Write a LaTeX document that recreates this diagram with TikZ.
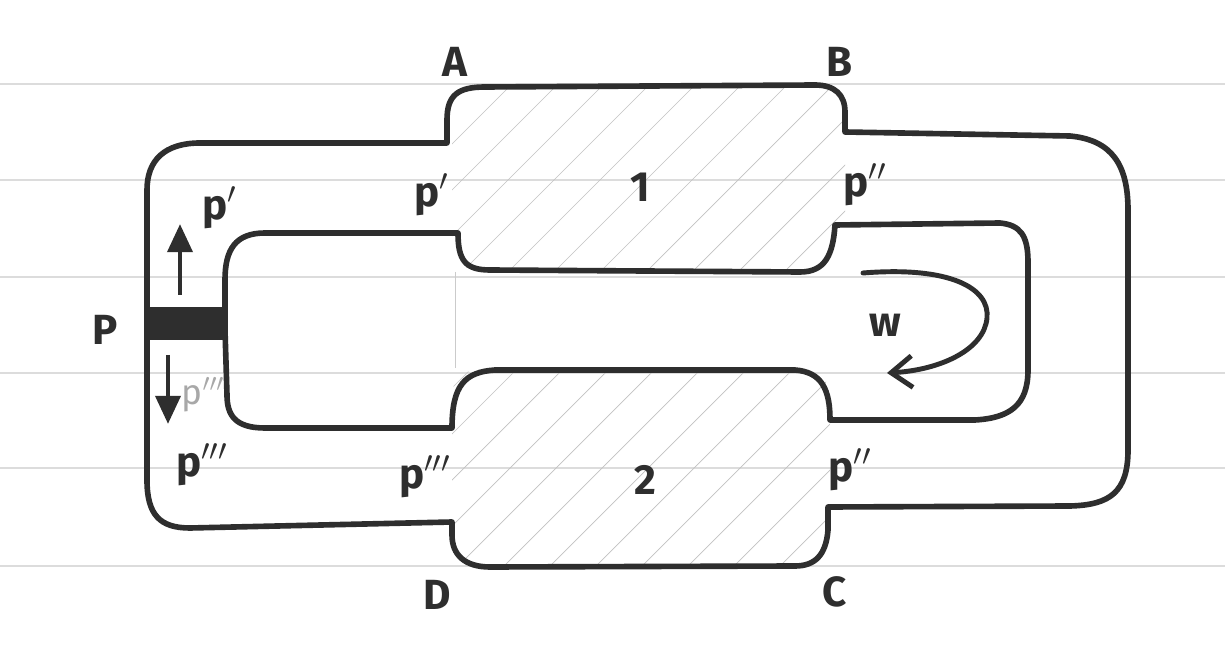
\documentclass[tikz,border=0pt]{standalone}
\usepackage{fontspec}
\setsansfont{Fira Sans}
\usetikzlibrary{arrows.meta}
\definecolor{Ink}{HTML}{2E2E2E}
\definecolor{Rule}{HTML}{DCDCDC}
\definecolor{Pencil}{HTML}{A8A8A8}

\begin{document}
\begin{tikzpicture}[x=0.02cm,y=-0.02cm,font=\sffamily\bfseries\fontsize{24}{28}\selectfont,
 wall/.style={draw=Ink,line width=3.2pt,line join=round,line cap=round},
 rule/.style={draw=Rule,line width=0.7pt},
 hatch/.style={draw=Pencil!70,line width=0.4pt},
 push/.style={draw=Ink,line width=2.8pt,-{Triangle[length=16pt,width=14pt]}},
 turn/.style={draw=Ink,line width=2.8pt,line cap=round,-{Straight Barb[length=12pt,width=18pt,line width=2.8pt]}},
 lbl/.style={text=Ink,inner sep=0pt}]
 \useasboundingbox (0,0) rectangle (1225,662);
 \fill[white] (0,0) rectangle (1225,662);
 % ruled paper
 \foreach \y in {84,180,277,373,468,566}
  \draw[rule] (0,\y) -- (1225,\y);
 % hatching in the two chambers
 \begin{scope}
  \clip[rounded corners=0.5cm] (452,87) rectangle (845,270);
  \foreach \k in {0,...,14}
   \draw[hatch] (250+\k*46,300) -- (480+\k*46,70);
 \end{scope}
 \begin{scope}
  \clip[rounded corners=0.5cm] (452,370) rectangle (830,567);
  \foreach \k in {0,...,14}
   \draw[hatch] (250+\k*46,590) -- (480+\k*46,360);
 \end{scope}
 \draw[draw=Pencil!60,line width=0.5pt] (455,272) -- (455,368);
 % outer wall
 \draw[wall] (147,330) -- (147,190) .. controls (147,160) and (165,143) .. (200,143)
  -- (447,143) -- (447,120) .. controls (447,95) and (458,87) .. (485,87)
  -- (815,85) .. controls (835,85) and (845,95) .. (845,112) -- (845,132)
  -- (1070,136) .. controls (1112,140) and (1128,165) .. (1128,210)
  -- (1128,450) .. controls (1128,492) and (1110,505) .. (1070,506)
  -- (828,507) -- (828,530) .. controls (826,555) and (815,566) .. (795,566)
  -- (490,567) .. controls (465,567) and (452,555) .. (452,535) -- (452,522)
  -- (190,528) .. controls (160,528) and (147,515) .. (147,480) -- cycle;
 % inner wall
 \draw[wall] (225,330) -- (225,280) .. controls (225,250) and (235,233) .. (265,233)
  -- (458,233) .. controls (458,260) and (465,270) .. (490,270)
  -- (800,272) .. controls (825,272) and (833,255) .. (835,225)
  -- (1000,223) .. controls (1020,225) and (1028,235) .. (1028,262)
  -- (1028,370) .. controls (1028,405) and (1010,418) .. (975,420)
  -- (830,420) .. controls (830,390) and (822,372) .. (795,370)
  -- (495,370) .. controls (465,372) and (452,385) .. (452,428)
  -- (265,428) .. controls (235,428) and (227,415) .. (227,395) -- cycle;
 % piston
 \fill[Ink] (147,307) rectangle (225,340);
 % labels
 \node[lbl] (lblA) at (455,62) {A};
 \node[lbl] (lblB) at (840,62) {B};
 \node[lbl] (lblC) at (835,592) {C};
 \node[lbl] (lblD) at (437,595) {D};
 \node[lbl] (one) at (640,187) {1};
 \node[lbl] (two) at (645,480) {2};
 \node[lbl] (lblP) at (105,330) {P};
 \node[lbl] (pa) at (432,195) {p\(^{\prime}\)};
 \node[lbl] (pb) at (865,185) {p\(^{\prime\prime}\)};
 \node[lbl] (pc) at (425,477) {p\(^{\prime\prime\prime}\)};
 \node[lbl] (pd) at (850,470) {p\(^{\prime\prime}\)};
 \node[lbl] (pup) at (220,208) {p\(^{\prime}\)};
 \node[lbl] (pdn) at (202,465) {p\(^{\prime\prime\prime}\)};
 \node[lbl,text=Pencil,font=\sffamily\fontsize{20}{24}\selectfont] (pgh) at (203,395) {p\(^{\prime\prime\prime}\)};
 \node[lbl] (lblw) at (885,325) {w};
 % piston motion
 \coordinate (up0) at (180,295);
 \coordinate (up1) at (180,224);
 \coordinate (dn0) at (168,355);
 \coordinate (dn1) at (168,424);
 \draw[push] (up0) -- (up1);
 \draw[push] (dn0) -- (dn1);
 % circulation
 \coordinate (w0) at (863,273);
 \coordinate (w1) at (887,373);
 \draw[turn] (w0) .. controls (950,266) and (990,288) .. (987,318)
  .. controls (984,350) and (940,370) .. (w1);
\end{tikzpicture}
\end{document}
